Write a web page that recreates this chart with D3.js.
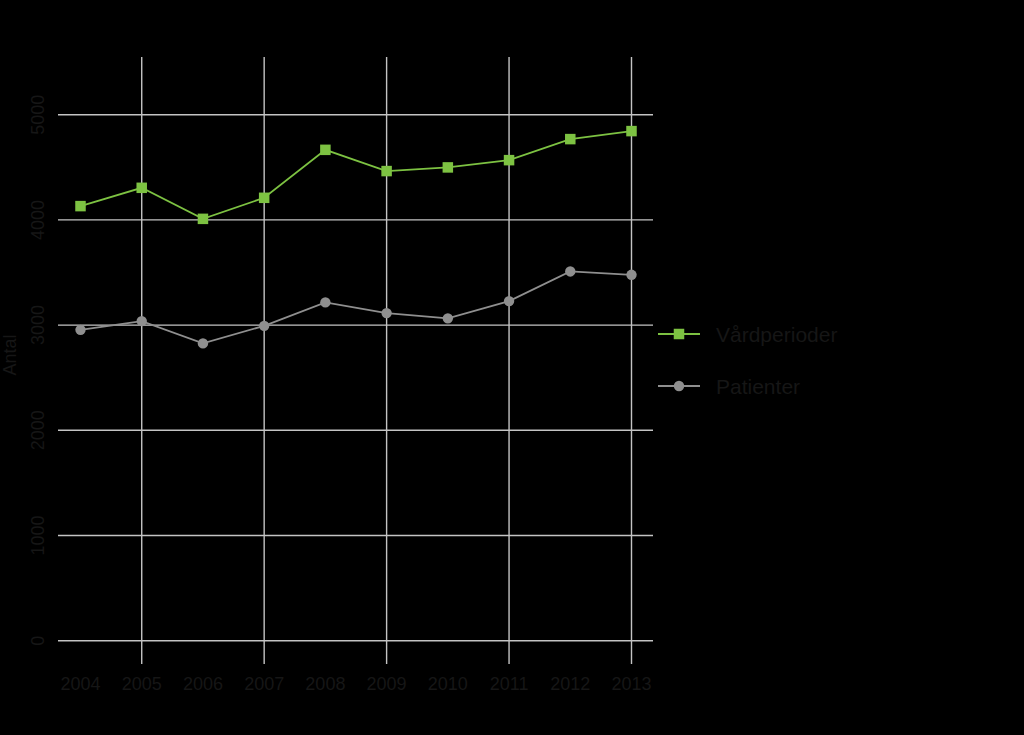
<!DOCTYPE html>
<html>
<head>
<meta charset="utf-8">
<script src="https://cdn.jsdelivr.net/npm/d3@7"></script>
<style>
  html, body { margin: 0; padding: 0; background: #000; }
  svg { display: block; }
</style>
</head>
<body>
<svg id="chart" width="1024" height="735"></svg>
<script>
// data
const years = [2004, 2005, 2006, 2007, 2008, 2009, 2010, 2011, 2012, 2013];
const vardperioder = [4131, 4305, 4010, 4210, 4666, 4464, 4499, 4568, 4768, 4844];
const patienter = [2955, 3038, 2826, 2993, 3216, 3114, 3064, 3228, 3510, 3478];
const yTicks = [0, 1000, 2000, 3000, 4000, 5000];
const xGridYears = [2005, 2007, 2009, 2011, 2013];
const seriesNames = ["Vårdperioder", "Patienter"];

const width = 1024;
const height = 735;
const panel = { left: 58, right: 653, top: 57, bottom: 664 };
const textColor = "#161616";
const gridColor = "#c4c4c4";
const green = "#7dc242";
const grey = "#8f8f8f";
const font = "Liberation Sans, Arial, sans-serif";

const svg = d3.select("#chart");
svg.append("rect").attr("width", width).attr("height", height).attr("fill", "#000");

const x = d3.scaleLinear()
  .domain([2004, 2013])
  .range([80.5, 631.5]);

const y = d3.scaleLinear()
  .domain([0, 5000])
  .range([640.7, 114.7]);

// grid
svg.append("g")
  .selectAll("line")
  .data(yTicks)
  .enter()
  .append("line")
  .attr("x1", panel.left)
  .attr("x2", panel.right)
  .attr("y1", d => y(d))
  .attr("y2", d => y(d))
  .attr("stroke", gridColor)
  .attr("stroke-width", 1.4);

svg.append("g")
  .selectAll("line")
  .data(xGridYears)
  .enter()
  .append("line")
  .attr("x1", d => x(d))
  .attr("x2", d => x(d))
  .attr("y1", panel.top)
  .attr("y2", panel.bottom)
  .attr("stroke", gridColor)
  .attr("stroke-width", 1.4);

// axis labels
svg.append("g")
  .selectAll("text")
  .data(years)
  .enter()
  .append("text")
  .attr("x", d => x(d))
  .attr("y", 690)
  .attr("text-anchor", "middle")
  .style("font-family", font)
  .style("font-size", "18px")
  .style("fill", textColor)
  .text(d => d);

svg.append("g")
  .selectAll("text")
  .data(yTicks)
  .enter()
  .append("text")
  .attr("transform", d => `translate(44,${y(d)}) rotate(-90)`)
  .attr("text-anchor", "middle")
  .style("font-family", font)
  .style("font-size", "18px")
  .style("fill", textColor)
  .text(d => d);

svg.append("text")
  .attr("transform", `translate(16,355) rotate(-90)`)
  .attr("text-anchor", "middle")
  .style("font-family", font)
  .style("font-size", "18px")
  .style("fill", textColor)
  .text("Antal");

// series
const line = d3.line()
  .x((d, i) => x(years[i]))
  .y(d => y(d));

svg.append("path")
  .datum(patienter)
  .attr("d", line)
  .attr("fill", "none")
  .attr("stroke", grey)
  .attr("stroke-width", 1.8);

svg.append("g")
  .selectAll("circle")
  .data(patienter)
  .enter()
  .append("circle")
  .attr("cx", (d, i) => x(years[i]))
  .attr("cy", d => y(d))
  .attr("r", 5.2)
  .attr("fill", grey);

svg.append("path")
  .datum(vardperioder)
  .attr("d", line)
  .attr("fill", "none")
  .attr("stroke", green)
  .attr("stroke-width", 1.8);

const sq = 10.5;
svg.append("g")
  .selectAll("rect")
  .data(vardperioder)
  .enter()
  .append("rect")
  .attr("x", (d, i) => x(years[i]) - sq / 2)
  .attr("y", d => y(d) - sq / 2)
  .attr("width", sq)
  .attr("height", sq)
  .attr("fill", green);

// legend
const legend = svg.append("g").attr("transform", "translate(658,334)");
seriesNames.forEach((name, i) => {
  const item = legend.append("g").attr("transform", `translate(0,${i * 52})`);
  const col = i === 0 ? green : grey;
  item.append("line")
    .attr("x1", 0).attr("x2", 42)
    .attr("y1", 0).attr("y2", 0)
    .attr("stroke", col)
    .attr("stroke-width", 1.8);
  if (i === 0) {
    item.append("rect")
      .attr("x", 21 - sq / 2).attr("y", -sq / 2)
      .attr("width", sq).attr("height", sq)
      .attr("fill", col);
  } else {
    item.append("circle").attr("cx", 21).attr("cy", 0).attr("r", 5.2).attr("fill", col);
  }
  item.append("text")
    .attr("x", 58)
    .attr("y", 8)
    .style("font-family", font)
    .style("font-size", "21px")
    .style("fill", textColor)
    .text(name);
});
</script>
</body>
</html>
